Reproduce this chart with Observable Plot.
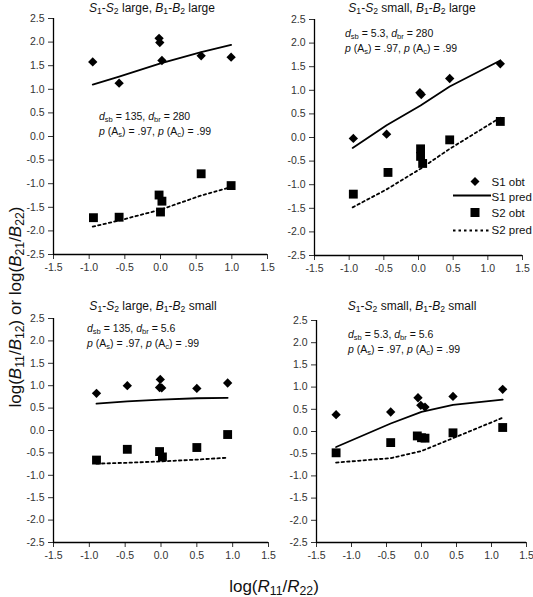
<!DOCTYPE html>
<html><head><meta charset="utf-8">
<script src="https://cdn.jsdelivr.net/npm/d3@7"></script>
<script src="https://cdn.jsdelivr.net/npm/@observablehq/plot@0.6"></script>
<style>
body{margin:0;background:#fff;}
#chart{position:relative;width:533px;height:597px;font-family:"Liberation Sans",Arial,sans-serif;color:#111;overflow:hidden;}
.abs{position:absolute;white-space:nowrap;}
.abs sub{font-size:72%;vertical-align:-0.25em;line-height:0;}
.title{font-size:12px;line-height:14px;transform:translateX(-50%);}
.ann{font-size:10.5px;line-height:15px;}
.axlab{font-size:17px;line-height:19px;}
svg.plot{position:absolute;}
</style></head><body><div id="chart"></div>
<script>
// ---------- data ----------
const xDomain = [-1.5, 1.5];
const yDomain = [-2.5, 2.5];
const xTicks = [-1.5, -1.0, -0.5, 0.0, 0.5, 1.0, 1.5];
const yTicks = [-2.5, -2.0, -1.5, -1.0, -0.5, 0.0, 0.5, 1.0, 1.5, 2.0, 2.5];

const seriesNames = ["S1 obt", "S1 pred", "S2 obt", "S2 pred"];

// Top-left: S1-S2 large, B1-B2 large
const tlS1Obt = [[-0.95,1.58],[-0.58,1.13],[-0.02,2.08],[-0.01,1.99],[0.02,1.61],[0.57,1.71],[0.99,1.68]];
const tlS1Pred = [[-0.95,1.10],[-0.58,1.27],[0.0,1.55],[0.57,1.79],[0.99,1.94]];
const tlS2Obt = [[-0.94,-1.72],[-0.58,-1.71],[-0.02,-1.24],[0.02,-1.37],[0.0,-1.60],[0.57,-0.79],[0.99,-1.04]];
const tlS2Pred = [[-0.95,-1.91],[-0.58,-1.78],[0.0,-1.55],[0.57,-1.25],[0.99,-1.07]];

// Top-right: S1-S2 small, B1-B2 large
const trS1Obt = [[-0.94,-0.02],[-0.46,0.07],[0.02,0.95],[0.04,0.91],[0.45,1.25],[1.18,1.56]];
const trS1Pred = [[-0.95,-0.22],[-0.46,0.26],[0.03,0.68],[0.45,1.08],[1.18,1.63]];
const trS2Obt = [[-0.94,-1.20],[-0.44,-0.74],[0.03,-0.24],[0.03,-0.40],[0.06,-0.55],[0.45,-0.05],[1.18,0.34]];
const trS2Pred = [[-0.95,-1.48],[-0.46,-1.10],[0.03,-0.66],[0.45,-0.24],[1.18,0.42]];

// Bottom-left: S1-S2 large, B1-B2 small
const blS1Obt = [[-0.90,0.83],[-0.47,1.00],[-0.01,1.14],[-0.02,0.96],[0.01,0.95],[0.50,0.94],[0.93,1.06]];
const blS1Pred = [[-0.90,0.60],[-0.47,0.65],[0.0,0.69],[0.50,0.72],[0.93,0.73]];
const blS2Obt = [[-0.90,-0.66],[-0.47,-0.42],[-0.02,-0.47],[0.02,-0.59],[0.50,-0.38],[0.93,-0.09]];
const blS2Pred = [[-0.90,-0.74],[-0.47,-0.72],[0.0,-0.69],[0.50,-0.65],[0.90,-0.61]];

// Bottom-right: S1-S2 small, B1-B2 small
const brS1Obt = [[-1.22,0.38],[-0.44,0.44],[-0.05,0.76],[-0.01,0.59],[0.05,0.55],[0.45,0.79],[1.16,0.95]];
const brS1Pred = [[-1.22,-0.35],[-0.44,0.18],[0.0,0.44],[0.45,0.60],[1.16,0.72]];
const brS2Obt = [[-1.22,-0.48],[-0.44,-0.25],[-0.06,-0.10],[0.0,-0.14],[0.05,-0.15],[0.45,-0.03],[1.16,0.09]];
const brS2Pred = [[-1.22,-0.70],[-0.44,-0.60],[0.0,-0.44],[0.45,-0.15],[1.16,0.31]];

const titles = [
  "<i>S</i><sub>1</sub>-<i>S</i><sub>2</sub> large, <i>B</i><sub>1</sub>-<i>B</i><sub>2</sub> large",
  "<i>S</i><sub>1</sub>-<i>S</i><sub>2</sub> small, <i>B</i><sub>1</sub>-<i>B</i><sub>2</sub> large",
  "<i>S</i><sub>1</sub>-<i>S</i><sub>2</sub> large, <i>B</i><sub>1</sub>-<i>B</i><sub>2</sub> small",
  "<i>S</i><sub>1</sub>-<i>S</i><sub>2</sub> small, <i>B</i><sub>1</sub>-<i>B</i><sub>2</sub> small"
];
const dsbValues = ["135", "5.3", "135", "5.3"];
const dbrValues = ["280", "280", "5.6", "5.6"];
const pAs = ".97", pAc = ".99";

// ---------- layout (pixels) ----------
const frames = [
  {left:53, right:267, top:18, bottom:254, titleX:152, titleY:1, annX:99, annY:109},
  {left:314, right:522, top:19, bottom:255, titleX:412, titleY:1, annX:345, annY:26},
  {left:53, right:268, top:318, bottom:542, titleX:153, titleY:299, annX:87, annY:321},
  {left:316, right:526, top:320, bottom:542, titleX:412, titleY:299, annX:348, annY:327}
];
const panelData = [
  [tlS1Obt, tlS1Pred, tlS2Obt, tlS2Pred],
  [trS1Obt, trS1Pred, trS2Obt, trS2Pred],
  [blS1Obt, blS1Pred, blS2Obt, blS2Pred],
  [brS1Obt, brS1Pred, brS2Obt, brS2Pred]
];

const chart = document.getElementById("chart");
const FONT = '"Liberation Sans", Arial, sans-serif';
const fmt = d => d.toFixed(1);

frames.forEach((f, i) => {
  const [s1o, s1p, s2o, s2p] = panelData[i];
  const mL = 45, mR = 10, mT = 10, mB = 30;
  const W = f.right - f.left, H = f.bottom - f.top;
  const svg = Plot.plot({
    width: W + mL + mR, height: H + mT + mB,
    marginLeft: mL, marginRight: mR, marginTop: mT, marginBottom: mB,
    style: {fontFamily: FONT, fontSize: "10.5px", color: "#333", background: "transparent", overflow: "visible"},
    x: {domain: xDomain, ticks: xTicks, tickFormat: fmt, tickSize: 5, tickPadding: 4, label: null},
    y: {domain: yDomain, ticks: yTicks, tickFormat: fmt, tickSize: 5, tickPadding: 4, label: null},
    marks: [
      Plot.ruleX([xDomain[0]], {stroke: "#000", strokeWidth: 1.3}),
      Plot.ruleY([yDomain[0]], {stroke: "#000", strokeWidth: 1.3}),
      Plot.line(s1p, {x: d => d[0], y: d => d[1], stroke: "#000", strokeWidth: 1.8}),
      Plot.line(s2p, {x: d => d[0], y: d => d[1], stroke: "#000", strokeWidth: 1.8, strokeDasharray: "2.5,3"}),
      Plot.dot(s1o, {x: d => d[0], y: d => d[1], symbol: "diamond2", r: 4.2, fill: "#000", stroke: "none"}),
      Plot.dot(s2o, {x: d => d[0], y: d => d[1], symbol: "square", r: 5, fill: "#000", stroke: "none"})
    ]
  });
  svg.classList.add("plot");
  svg.style.left = (f.left - mL) + "px";
  svg.style.top = (f.top - mT) + "px";
  chart.appendChild(svg);

  const t = document.createElement("div");
  t.className = "abs title";
  t.style.left = f.titleX + "px"; t.style.top = f.titleY + "px";
  t.innerHTML = titles[i];
  chart.appendChild(t);

  const a = document.createElement("div");
  a.className = "abs ann";
  a.style.left = f.annX + "px"; a.style.top = f.annY + "px";
  a.innerHTML = `<i>d</i><sub>sb</sub> = ${dsbValues[i]}, <i>d</i><sub>br</sub> = ${dbrValues[i]}<br><i>p</i> (A<sub>s</sub>) = ${pAs}, <i>p</i> (A<sub>c</sub>) = ${pAc}`;
  chart.appendChild(a);
});

// legend (top-right panel)
const leg = document.createElement("div");
leg.className = "abs";
leg.style.left = "446px"; leg.style.top = "172px";
const sw = [
  `<path d="M29,5 L33.5,9.5 L29,14 L24.5,9.5 Z" fill="#000"/>`,
  `<line x1="7" x2="45" y1="23.5" y2="23.5" stroke="#000" stroke-width="1.8"/>`,
  `<rect x="24.5" y="36" width="9" height="9" fill="#000"/>`,
  `<line x1="7" x2="45" y1="58.5" y2="58.5" stroke="#000" stroke-width="1.8" stroke-dasharray="2.5,3"/>`
];
const legY = [14, 29, 45, 62];
leg.innerHTML = `<svg width="90" height="66" style="position:absolute;left:0;top:0;overflow:visible">${sw.join("")}` +
  seriesNames.map((n, k) => `<text x="45.5" y="${legY[k]}" font-size="11.5" font-family='${FONT}' fill="#111">${n}</text>`).join("") +
  `</svg>`;
chart.appendChild(leg);

// axis labels
const yl = document.createElement("div");
yl.className = "abs axlab";
yl.style.left = "15px"; yl.style.top = "307px";
yl.style.transform = "translate(-50%,-50%) rotate(-90deg)";
yl.innerHTML = "log(<i>B</i><sub>11</sub>/<i>B</i><sub>12</sub>) or log(<i>B</i><sub>21</sub>/<i>B</i><sub>22</sub>)";
chart.appendChild(yl);

const xl = document.createElement("div");
xl.className = "abs axlab";
xl.style.left = "274px"; xl.style.top = "586px";
xl.style.transform = "translate(-50%,-50%)";
xl.innerHTML = "log(<i>R</i><sub>11</sub>/<i>R</i><sub>22</sub>)";
chart.appendChild(xl);
</script>
</body></html>
